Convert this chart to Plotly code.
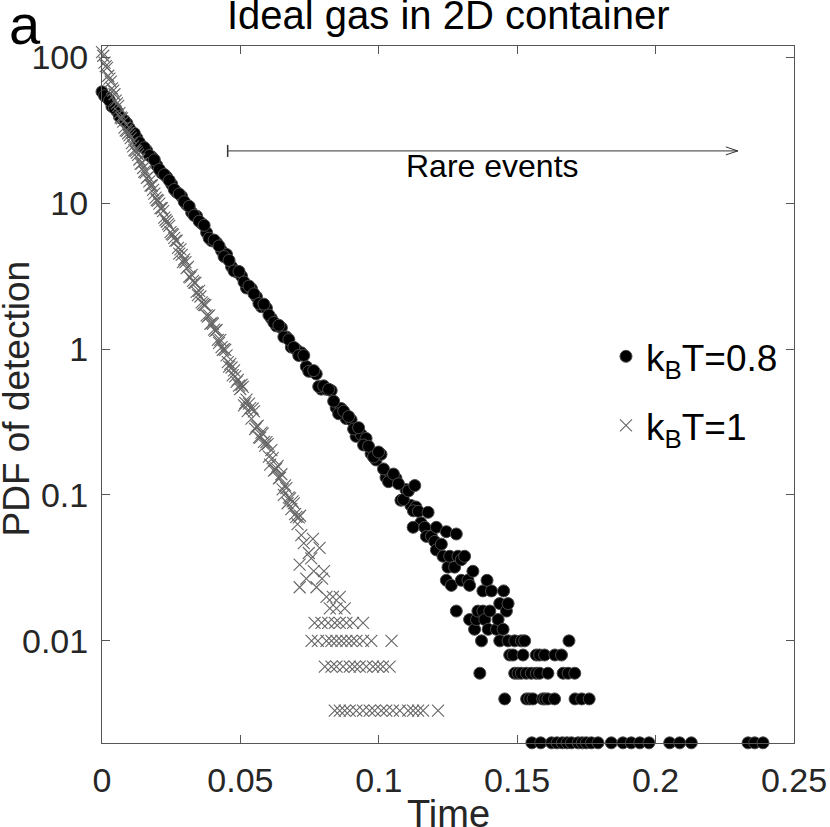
import plotly.graph_objects as go

# ---------------- data ----------------
# k_B T = 0.8 (filled circles) - dense part
t_08 = [0.0, 0.0018, 0.0036, 0.0054, 0.0072, 0.009, 0.0108, 0.0126, 0.0144, 0.0162,
        0.018, 0.0198, 0.0216, 0.0234, 0.0252, 0.027, 0.0288, 0.0306, 0.0324, 0.0342,
        0.036, 0.0378, 0.0396, 0.0414, 0.0432, 0.045, 0.0468, 0.0486, 0.0504, 0.0522,
        0.054, 0.0558, 0.0576, 0.0594, 0.0612, 0.063, 0.0648, 0.0666, 0.0684, 0.0702,
        0.072, 0.0738, 0.0756, 0.0774, 0.0792, 0.081, 0.0828, 0.0846, 0.0864, 0.0882,
        0.09, 0.0918, 0.0936, 0.0954, 0.0972, 0.099, 0.1008, 0.1026, 0.1044, 0.1062,
        0.108, 0.1098, 0.1116, 0.1134, 0.1152]
pdf_08 = [57.9, 52.9, 45.96, 42.67, 37.90, 35.18, 30.40, 27.91, 24.38, 22.82,
          20.72, 18.15, 16.08, 15.09, 13.44, 11.87, 11.08, 9.73, 8.62, 8.14,
          7.25, 6.27, 5.52, 5.36, 4.72, 4.45, 3.67, 3.38, 3.16, 2.62,
          2.59, 2.28, 1.95, 1.91, 1.62, 1.44, 1.40, 1.21, 1.03, 0.991,
          0.943, 0.758, 0.704, 0.675, 0.531, 0.530, 0.519, 0.396, 0.391, 0.334,
          0.327, 0.252, 0.260, 0.244, 0.192, 0.1736, 0.1897, 0.1320, 0.1352, 0.1299,
          0.0919, 0.1088, 0.0847, 0.0827, 0.0644]
t_08_mid = [0.0009, 0.0027, 0.0045, 0.0063, 0.0081, 0.0099, 0.0117, 0.0135, 0.0153, 0.0171,
            0.0189, 0.0207, 0.0225, 0.0243, 0.0261, 0.0279, 0.0297, 0.0315, 0.0333, 0.0351,
            0.0369, 0.0387, 0.0405, 0.0423, 0.0441, 0.0459, 0.0477, 0.0495, 0.0513, 0.0531,
            0.0549, 0.0567, 0.0585, 0.0603, 0.0621, 0.0639, 0.0657, 0.0675, 0.0693, 0.0711,
            0.0729, 0.0747, 0.0765, 0.0783, 0.0801, 0.0819, 0.0837, 0.0855, 0.0873, 0.0891,
            0.0909, 0.0927, 0.0945, 0.0963, 0.0981, 0.0999, 0.1017, 0.1035, 0.1053, 0.1071,
            0.1089, 0.1107, 0.1125, 0.1143]
pdf_08_mid = [54.4, 50.5, 44.8, 39.2, 36.7, 32.5, 30.0, 26.0, 24.0, 21.2,
              19.8, 17.0, 15.7, 14.3, 12.4, 11.55, 10.23, 9.50, 8.23, 7.51,
              7.04, 5.75, 5.58, 5.09, 4.30, 4.05, 3.43, 3.40, 2.88, 2.70,
              2.39, 2.05, 2.03, 1.71, 1.52, 1.455, 1.21, 1.16, 1.026, 0.903,
              0.904, 0.704, 0.711, 0.553, 0.559, 0.530, 0.439, 0.360, 0.375, 0.345,
              0.283, 0.289, 0.220, 0.2155, 0.182, 0.1967, 0.1508, 0.1232, 0.139, 0.1193,
              0.0929, 0.1066, 0.0778, 0.0772]
# k_B T = 0.8 - sparse tail (rare events)
t_08_tail = [0.1124, 0.1130, 0.1166, 0.1172, 0.1178, 0.1190, 0.1202, 0.1208, 0.1208, 0.1226,
             0.1232, 0.1244, 0.1244, 0.1250, 0.1256, 0.1262, 0.1274, 0.1280, 0.1280, 0.1286,
             0.1298, 0.1298, 0.1310, 0.1322, 0.1328, 0.1328, 0.1340, 0.1346, 0.1353, 0.1358,
             0.1365, 0.1371, 0.1376, 0.1376, 0.1383, 0.1391, 0.1395, 0.1401, 0.1407, 0.1425,
             0.1431, 0.1437, 0.1437, 0.1449, 0.1451, 0.1455, 0.1461, 0.1467, 0.1467, 0.1473,
             0.1485, 0.1491, 0.1491, 0.1503, 0.1515, 0.1515, 0.1521, 0.1527, 0.1533, 0.1534,
             0.1545, 0.1551, 0.1553, 0.1557, 0.1569, 0.1569, 0.1581, 0.1581, 0.1585, 0.1592,
             0.1599, 0.1600, 0.1611, 0.1611, 0.1624, 0.1635, 0.1636, 0.1644, 0.1660, 0.1663,
             0.1666, 0.1680, 0.1684, 0.1687, 0.1696, 0.1708, 0.1709, 0.1720, 0.1733, 0.1735,
             0.1750, 0.1760, 0.1768, 0.1792, 0.1840, 0.1882, 0.1912, 0.1943, 0.1976, 0.2051,
             0.2087, 0.2129, 0.2334, 0.2358, 0.2388]
pdf_08_tail = [0.060, 0.116, 0.060, 0.052, 0.076, 0.052, 0.048, 0.060, 0.042, 0.046,
               0.038, 0.056, 0.026, 0.032, 0.038, 0.024, 0.032, 0.054, 0.016, 0.038,
               0.036, 0.026, 0.038, 0.026, 0.024, 0.014, 0.030, 0.012, 0.014, 0.016,
               0.006, 0.010, 0.022, 0.016, 0.014, 0.026, 0.012, 0.016, 0.022, 0.012,
               0.014, 0.018, 0.010, 0.012, 0.022, 0.004, 0.016, 0.018, 0.010, 0.008,
               0.008, 0.010, 0.006, 0.006, 0.010, 0.006, 0.008, 0.010, 0.006, 0.004,
               0.004, 0.006, 0.002, 0.004, 0.008, 0.006, 0.008, 0.006, 0.002, 0.004,
               0.008, 0.004, 0.006, 0.004, 0.002, 0.004, 0.008, 0.002, 0.008, 0.002,
               0.006, 0.002, 0.006, 0.010, 0.002, 0.006, 0.004, 0.002, 0.004, 0.002,
               0.002, 0.004, 0.002, 0.002, 0.002, 0.002, 0.002, 0.002, 0.002, 0.002,
               0.002, 0.002, 0.002, 0.002, 0.002]

# k_B T = 1 (crosses) - dense part
t_10 = [0.0, 0.0009, 0.0018, 0.0027, 0.0036, 0.0045, 0.0054, 0.0063, 0.0072, 0.0081,
        0.009, 0.0099, 0.0108, 0.0117, 0.0126, 0.0135, 0.0144, 0.0153, 0.0162, 0.0171,
        0.018, 0.0189, 0.0198, 0.0207, 0.0216, 0.0225, 0.0234, 0.0243, 0.0252, 0.0261,
        0.027, 0.0279, 0.0288, 0.0297, 0.0306, 0.0315, 0.0324, 0.0333, 0.0342, 0.0351,
        0.036, 0.0369, 0.0378, 0.0387, 0.0396, 0.0405, 0.0414, 0.0423, 0.0432, 0.0441,
        0.045, 0.0459, 0.0468, 0.0477, 0.0486, 0.0495, 0.0504, 0.0513, 0.0522, 0.0531,
        0.054, 0.0549, 0.0558, 0.0567, 0.0576, 0.0585, 0.0594, 0.0603, 0.0612, 0.0621,
        0.063, 0.0639, 0.0648, 0.0657, 0.0666, 0.0675, 0.0684, 0.0693, 0.0702, 0.0711,
        0.072]
pdf_10 = [108.3, 91.8, 84.6, 71.3, 61.1, 55.7, 48.3, 41.4, 38.1, 32.9,
          31.3, 29.1, 25.8, 23.1, 22.2, 19.9, 18.7, 16.4, 14.9, 14.1,
          13.2, 11.6, 10.5, 9.91, 9.22, 7.95, 7.45, 6.98, 6.15, 5.77,
          5.53, 4.50, 4.41, 4.12, 3.59, 3.13, 3.22, 2.85, 2.46, 2.50,
          2.09, 2.01, 1.70, 1.70, 1.51, 1.36, 1.35, 1.10, 1.03, 1.00,
          0.906, 0.757, 0.747, 0.713, 0.596, 0.561, 0.569, 0.411, 0.450, 0.423,
          0.333, 0.374, 0.294, 0.248, 0.267, 0.231, 0.230, 0.183, 0.203, 0.147,
          0.152, 0.130, 0.1386, 0.1002, 0.1112, 0.0963, 0.0799, 0.0875, 0.0707, 0.0703,
          0.0530]
t_10_mid = [0.00045, 0.00135, 0.00225, 0.00315, 0.00405, 0.00495, 0.00585, 0.00675, 0.00765, 0.00855,
            0.00945, 0.01035, 0.01125, 0.01215, 0.01305, 0.01395, 0.01485, 0.01575, 0.01665, 0.01755,
            0.01845, 0.01935, 0.02025, 0.02115, 0.02205, 0.02295, 0.02385, 0.02475, 0.02565, 0.02655,
            0.02745, 0.02835, 0.02925, 0.03015, 0.03105, 0.03195, 0.03285, 0.03375, 0.03465, 0.03555,
            0.03645, 0.03735, 0.03825, 0.03915, 0.04005, 0.04095, 0.04185, 0.04275, 0.04365, 0.04455,
            0.04545, 0.04635, 0.04725, 0.04815, 0.04905, 0.04995, 0.05085, 0.05175, 0.05265, 0.05355,
            0.05445, 0.05535, 0.05625, 0.05715, 0.05805, 0.05895, 0.05985, 0.06075, 0.06165, 0.06255,
            0.06345, 0.06435, 0.06525, 0.06615, 0.06705, 0.06795, 0.06885, 0.06975, 0.07065, 0.07155]
pdf_10_mid = [102.3, 86.8, 74.6, 68.1, 58.96, 50.4, 46.4, 38.6, 36.2, 31.5,
              30.1, 27.9, 24.5, 22.8, 21.4, 18.6, 17.4, 16.2, 15.1, 13.2,
              12.3, 10.9, 10.4, 9.25, 8.82, 7.66, 7.18, 6.32, 6.09, 5.53,
              4.94, 4.81, 3.94, 3.94, 3.66, 3.10, 2.93, 2.84, 2.34, 2.29,
              2.04, 2.00, 1.67, 1.49, 1.49, 1.33, 1.155, 1.156, 0.986, 0.987,
              0.814, 0.792, 0.663, 0.649, 0.615, 0.532, 0.551, 0.427, 0.375, 0.394,
              0.391, 0.283, 0.297, 0.247, 0.263, 0.218, 0.223, 0.1613, 0.179, 0.1487,
              0.1583, 0.1315, 0.1092, 0.1163, 0.0877, 0.0947, 0.0902, 0.0739, 0.0631, 0.0720]
# k_B T = 1 - sparse tail
t_10_tail = [0.0714, 0.0714, 0.0729, 0.0738, 0.0747, 0.0756, 0.0757, 0.0762, 0.0765, 0.0768,
             0.0775, 0.0780, 0.0786, 0.0793, 0.0795, 0.0802, 0.0805, 0.0811, 0.0811, 0.0817,
             0.0823, 0.0829, 0.0829, 0.0834, 0.0841, 0.0841, 0.0847, 0.0847, 0.0847, 0.0859,
             0.0859, 0.0859, 0.0865, 0.0871, 0.0877, 0.0877, 0.0883, 0.0883, 0.0895, 0.0895,
             0.0901, 0.0907, 0.0913, 0.0919, 0.0919, 0.0931, 0.0943, 0.0943, 0.0943, 0.0955,
             0.0967, 0.0973, 0.0979, 0.0985, 0.0997, 0.1009, 0.1015, 0.1027, 0.1039, 0.1046,
             0.1051, 0.1076, 0.1106, 0.1124, 0.1142, 0.1160, 0.1214]
pdf_10_tail = [0.0333, 0.0233, 0.0467, 0.0267, 0.0400, 0.0367, 0.0100, 0.0500, 0.0300, 0.0133,
               0.0233, 0.0100, 0.0433, 0.0133, 0.0267, 0.0300, 0.00667, 0.0200, 0.0100, 0.0133,
               0.0167, 0.0100, 0.00667, 0.0200, 0.0133, 0.00333, 0.0167, 0.0100, 0.00667, 0.0200,
               0.0133, 0.00333, 0.0100, 0.00667, 0.0167, 0.00333, 0.0133, 0.0100, 0.00667, 0.00333,
               0.0100, 0.0133, 0.00667, 0.0100, 0.00333, 0.00667, 0.0133, 0.0100, 0.00333, 0.00667,
               0.00333, 0.0100, 0.00667, 0.00333, 0.00667, 0.00333, 0.00667, 0.00333, 0.00667, 0.0100,
               0.00333, 0.00333, 0.00333, 0.00333, 0.00333, 0.00333, 0.00333]

x_ticks = [0, 0.05, 0.1, 0.15, 0.2, 0.25]
x_ticklabels = ["0", "0.05", "0.1", "0.15", "0.2", "0.25"]
y_ticks = [0.01, 0.1, 1, 10, 100]
y_ticklabels = ["0.01", "0.1", "1", "10", "100"]

series_names = ["k<sub>B</sub>T=0.8", "k<sub>B</sub>T=1"]
rare_start, rare_end = 0.0454, 0.2297

# ---------------- figure ----------------
FONT = "Liberation Sans, Arial, Helvetica, sans-serif"
AXC = "#555555"
TXT = "#262626"

fig = go.Figure()
fig.add_trace(go.Scatter(
    x=t_08 + t_08_mid + t_08_tail, y=pdf_08 + pdf_08_mid + pdf_08_tail, mode="markers",
    name=series_names[0], legendgroup="g1", cliponaxis=False,
    marker=dict(symbol="circle", size=12, color="black",
                line=dict(color="#4a4a4a", width=1))))
fig.add_trace(go.Scatter(
    x=t_10 + t_10_mid + t_10_tail, y=pdf_10 + pdf_10_mid + pdf_10_tail, mode="markers",
    name=series_names[1], legendgroup="g2", cliponaxis=False,
    marker=dict(symbol="x-thin-open", size=12, color="#666666",
                line=dict(color="#666666", width=1.1))))

ymin, ymax = -2.70, 2.0766

fig.update_layout(
    width=830, height=827,
    margin=dict(l=102, r=36, t=46, b=84, autoexpand=False),
    paper_bgcolor="white", plot_bgcolor="white",
    font=dict(family=FONT, color=TXT),
    showlegend=True,
    legend=dict(x=0.7283, y=0.5986, xanchor="left", yanchor="top",
                font=dict(size=37, family=FONT, color="black"),
                bgcolor="rgba(0,0,0,0)", tracegroupgap=18),
    xaxis=dict(range=[0, 0.25], tickvals=x_ticks, ticktext=x_ticklabels,
               ticks="inside", ticklen=8, tickcolor=AXC, showline=True, linecolor=AXC,
               linewidth=1, mirror="ticks", showgrid=False, zeroline=False, automargin=False,
               tickfont=dict(size=34, family=FONT, color=TXT), ticklabelstandoff=7),
    yaxis=dict(type="log", range=[ymin, ymax], tickvals=y_ticks, ticktext=y_ticklabels,
               ticks="inside", ticklen=8, tickcolor=AXC, showline=True, linecolor=AXC,
               linewidth=1, mirror="ticks", showgrid=False, zeroline=False, automargin=False,
               tickfont=dict(size=34, family=FONT, color=TXT), ticklabelstandoff=6),
)

# titles as annotations
fig.add_annotation(text="Ideal gas in 2D container", xref="paper", yref="paper",
                   x=0.5, y=1.0, yanchor="bottom", xanchor="center", yshift=7,
                   showarrow=False, font=dict(size=40, family=FONT, color="black"))
fig.add_annotation(text="a", xref="paper", yref="paper", x=-0.1305, y=1.0,
                   xanchor="left", yanchor="bottom", yshift=-12, xshift=-5, showarrow=False,
                   font=dict(size=56, family=FONT, color="black"))
fig.add_annotation(text="Time", xref="paper", yref="paper", x=0.5, y=0,
                   xanchor="center", yanchor="top", yshift=-48, showarrow=False,
                   font=dict(size=38, family=FONT, color=TXT))
fig.add_annotation(text="PDF of detection", xref="paper", yref="paper", x=0, y=0.5,
                   xanchor="center", yanchor="middle", xshift=-86, yshift=-4, textangle=-90,
                   showarrow=False, font=dict(size=37, family=FONT, color=TXT))

# "Rare events" arrow
ya = (743.3 - 150.7) / 697.6
fig.add_shape(type="line", xref="x", yref="paper", x0=rare_start, x1=rare_end, y0=ya, y1=ya,
              line=dict(color="#333333", width=1))
fig.add_shape(type="line", xref="x", yref="paper", x0=rare_start, x1=rare_start,
              y0=ya - 0.0086, y1=ya + 0.0086, line=dict(color="#333333", width=1.5))
for dy in (4, -4):
    fig.add_shape(type="line", xref="x", yref="paper", xsizemode="pixel", xanchor=rare_end,
                  x0=-12, x1=0, ysizemode="pixel", yanchor=ya, y0=dy, y1=0,
                  line=dict(color="#333333", width=1))
fig.add_annotation(text="Rare events", xref="x", yref="paper",
                   x=(rare_start + rare_end) / 2 + 0.0037, y=ya, yanchor="top", yshift=5,
                   showarrow=False, font=dict(size=32, family=FONT, color="black"))

fig.write_html("out.html", config={"displayModeBar": False},
               post_script="document.documentElement.style.overflow='hidden';"
                           "document.body.style.margin='0px';document.body.style.overflow='hidden';")
